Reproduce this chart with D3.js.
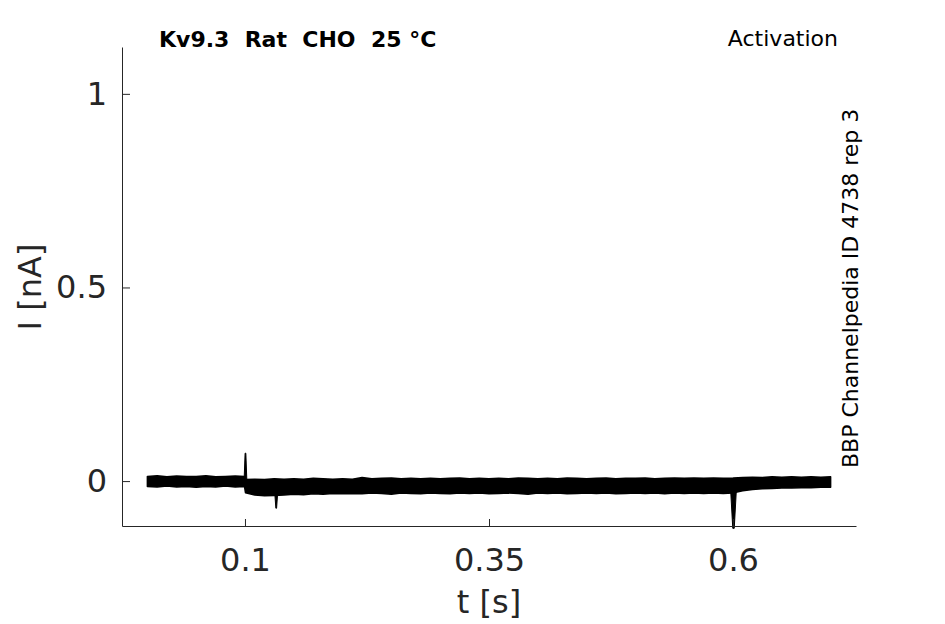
<!DOCTYPE html>
<html><head><meta charset="utf-8">
<script src="https://cdn.jsdelivr.net/npm/d3@7"></script>
<style>
body{margin:0;background:#fff}
text{font-family:"DejaVu Sans",sans-serif}
</style>
</head><body><svg id="c" width="945" height="624"></svg>
<script>
// ---- data ----
const title = "Kv9.3  Rat  CHO  25 °C";
const protocol = "Activation";
const sideNote = "BBP Channelpedia ID 4738 rep 3";
const xLabel = "t [s]";
const yLabel = "I [nA]";
const xTicks = [0.1, 0.35, 0.6];
const xTickLabels = ["0.1", "0.35", "0.6"];
const yTicks = [0, 0.5, 1];
const yTickLabels = ["0", "0.5", "1"];

// trace time points (s)
const traceT = [0.000,0.010,0.020,0.030,0.040,0.050,0.060,0.070,0.080,0.090,0.0995,
  0.1005,0.110,0.120,0.130,0.140,0.150,0.160,0.170,0.180,0.190,0.200,
  0.210,0.220,0.230,0.240,0.250,0.260,0.270,0.280,0.290,0.300,
  0.310,0.320,0.330,0.340,0.350,0.360,0.370,0.380,0.390,0.400,
  0.410,0.420,0.430,0.440,0.450,0.460,0.470,0.480,0.490,0.500,
  0.510,0.520,0.530,0.540,0.550,0.560,0.570,0.580,0.590,0.5995,
  0.6005,0.610,0.620,0.630,0.640,0.650,0.660,0.670,0.680,0.690,0.700];
// upper edge of the noisy current trace (nA)
const traceUpper = [0.012,0.014,0.011,0.013,0.012,0.012,0.014,0.011,0.012,0.013,0.012,
  0.004,0.005,0.004,0.006,0.005,0.006,0.005,0.007,0.006,0.005,0.006,
  0.005,0.009,0.006,0.007,0.008,0.006,0.007,0.006,0.007,0.006,
  0.007,0.008,0.006,0.007,0.006,0.007,0.006,0.008,0.007,0.006,
  0.007,0.006,0.008,0.007,0.006,0.007,0.008,0.006,0.007,0.007,
  0.008,0.006,0.007,0.008,0.007,0.008,0.007,0.008,0.007,0.007,
  0.008,0.009,0.010,0.009,0.011,0.010,0.011,0.010,0.011,0.010,0.011];
// lower edge of the noisy current trace (nA)
const traceLower = [-0.014,-0.015,-0.013,-0.015,-0.014,-0.016,-0.014,-0.015,-0.013,-0.015,-0.014,
  -0.030,-0.036,-0.038,-0.037,-0.036,-0.034,-0.035,-0.033,-0.034,-0.032,-0.033,
  -0.032,-0.033,-0.031,-0.032,-0.034,-0.031,-0.032,-0.033,-0.031,-0.032,
  -0.033,-0.031,-0.032,-0.031,-0.033,-0.032,-0.031,-0.032,-0.034,-0.031,
  -0.032,-0.031,-0.033,-0.032,-0.031,-0.032,-0.031,-0.033,-0.032,-0.031,
  -0.032,-0.031,-0.033,-0.031,-0.032,-0.031,-0.032,-0.031,-0.032,-0.031,
  -0.030,-0.025,-0.022,-0.020,-0.019,-0.018,-0.018,-0.017,-0.017,-0.016,-0.016];
// capacitive transients (time s, peak nA, base nA, duration s)
const spikeT = [0.1005, 0.132, 0.6005];
const spikePeak = [0.072, -0.070, -0.122];
const spikeBase = [-0.005, -0.030, -0.020];
const spikeDur = [0.003, 0.003, 0.006];

// ---- chart ----
const svg = d3.select("#c");
const x = d3.scaleLinear().domain([-0.026, 0.726]).range([122, 856]);
const y = d3.scaleLinear().domain([-0.116, 1.121]).range([526, 47]);
const axisColor = "#262626";

// trace band
const pts = traceT.map((t, i) => ({t, hi: traceUpper[i], lo: traceLower[i]}));
const area = d3.area().x(d => x(d.t)).y0(d => y(d.lo)).y1(d => y(d.hi));
svg.append("path").datum(pts).attr("d", area)
  .attr("fill", "#000").attr("stroke", "#000").attr("stroke-width", 1.5).attr("stroke-linejoin", "round");

// spikes
const spikeLine = d3.line().x(d => x(d[0])).y(d => y(d[1]));
spikeT.forEach((t, i) => {
  const w = spikeDur[i] / 2;
  svg.append("path")
    .attr("d", spikeLine([[t - w, spikeBase[i]], [t - w * 0.25, spikePeak[i]], [t + w * 0.25, spikePeak[i]], [t + w, spikeBase[i]]]) + "Z")
    .attr("fill", "#000").attr("stroke", "#000").attr("stroke-width", 1);
});

// axes
const gx = svg.append("g").attr("transform", "translate(0,526)")
  .call(d3.axisBottom(x).tickValues(xTicks).tickFormat((d, i) => xTickLabels[i])
    .tickSizeInner(-7).tickSizeOuter(0).tickPadding(22));
const gy = svg.append("g").attr("transform", "translate(122,0)")
  .call(d3.axisLeft(y).tickValues(yTicks).tickFormat((d, i) => yTickLabels[i])
    .tickSizeInner(-8).tickSizeOuter(0).tickPadding(15));
[gx, gy].forEach(g => {
  g.select(".domain").attr("stroke", axisColor).attr("stroke-width", 1);
  g.selectAll(".tick line").attr("stroke", axisColor).attr("stroke-width", 1);
  g.selectAll(".tick text").attr("fill", axisColor)
    .style("font-family", "'DejaVu Sans', sans-serif").style("font-size", "32px");
});

// axis labels
svg.append("text").attr("x", 489).attr("y", 613).attr("text-anchor", "middle")
  .attr("fill", axisColor).style("font-size", "32px").text(xLabel);
svg.append("text").attr("transform", "translate(41,287) rotate(-90)").attr("text-anchor", "middle")
  .attr("fill", axisColor).style("font-size", "32px").text(yLabel);

// title & annotations
svg.append("text").attr("x", 159).attr("y", 47).style("font-size", "22px").style("font-weight", "bold")
  .style("white-space", "pre").attr("fill", "#000").text(title);
svg.append("text").attr("x", 838).attr("y", 46).attr("text-anchor", "end").style("font-size", "22px")
  .attr("fill", "#000").text(protocol);
svg.append("text").attr("transform", "translate(858,468) rotate(-90)").attr("text-anchor", "start")
  .style("font-size", "22px").attr("fill", "#000").text(sideNote);
</script></body></html>
